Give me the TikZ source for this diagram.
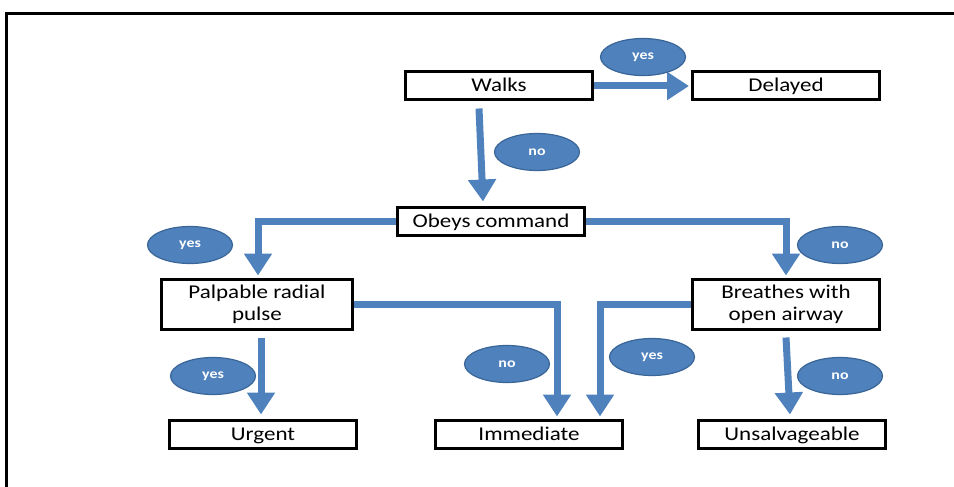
\documentclass[tikz,border=0pt]{standalone}
\usepackage{fontspec}
\setmainfont{Carlito}[FakeStretch=1.18]
\usetikzlibrary{arrows.meta,calc,shapes.geometric}
\definecolor{flowblue}{HTML}{4F81BD}
\definecolor{flowedge}{HTML}{3A6597}
\begin{document}
\begin{tikzpicture}[x=1pt,y=-1pt,
  stepbox/.style={draw=black,line width=3pt,fill=white,minimum width=187pt,minimum height=28pt,
    inner sep=2pt,align=center,text height=14.5pt,text depth=2.5pt,font=\fontsize{19.5}{22}\selectfont},
  twoline/.style={stepbox,minimum height=50pt,text height=,text depth=},
  answer/.style={ellipse,draw=flowedge,line width=1.2pt,fill=flowblue,minimum width=85pt,
    minimum height=37pt,inner sep=0pt,text=white,font=\fontsize{13.5}{14}\selectfont\bfseries},
  arr/.style={draw=flowblue,line width=7pt,-{Triangle[width=27pt,length=22pt]}}]
\useasboundingbox (0,0) rectangle (954,487);
% page frame
\draw[line width=3pt] (954,14) -- (6,14) -- (6,490);

% decision boxes
\node[stepbox] (walks) at (499,86) {Walks};
\node[stepbox] (delayed) at (786,86) {Delayed};
\node[stepbox] (obeys) at (491,221) {Obeys command};
\node[twoline,minimum width=191pt] (palp) at (257,304) {Palpable radial\\pulse};
\node[twoline] (breathes) at (786,304) {Breathes with\\open airway};
\node[stepbox] (urgent) at (263,434) {Urgent};
\node[stepbox] (immediate) at (529,434) {Immediate};
\node[stepbox] (unsalv) at (792,434) {Unsalvageable};

% connectors
\draw[arr] (walks.east) -- ($(delayed.west)+(-2,0)$);
\draw[arr] ($(walks.south)+(-20,7)$) -- ($(obeys.north)+(-8,-4)$);
\draw[arr] (obeys.west) -| ($(palp.north)+(1,-2)$);
\draw[arr] (obeys.east) -| ($(breathes.north)+(0,-2)$);
\draw[arr] (palp.east) -| ($(immediate.north)+(28,-2)$);
\draw[arr] (breathes.west) -| ($(immediate.north)+(71,-2)$);
\draw[arr] ($(palp.south)+(4,7)$) -- ($(urgent.north)+(-2,-4)$);
\draw[arr] ($(breathes.south)+(0,7)$) -- ($(unsalv.north)+(-2,-4)$);

% answer labels
\node[answer] (yesdelayed) at (643,57) {yes};
\node[answer] (nowalks) at (537,152) {no};
\node[answer] (yesobeys) at (190,245) {yes};
\node[answer] (noobeys) at (840,245) {no};
\node[answer] (yespulse) at (213,376) {yes};
\node[answer] (nopulse) at (507,364) {no};
\node[answer] (yesbreathes) at (652,357) {yes};
\node[answer] (nobreathes) at (840,376) {no};
\end{tikzpicture}
\end{document}
